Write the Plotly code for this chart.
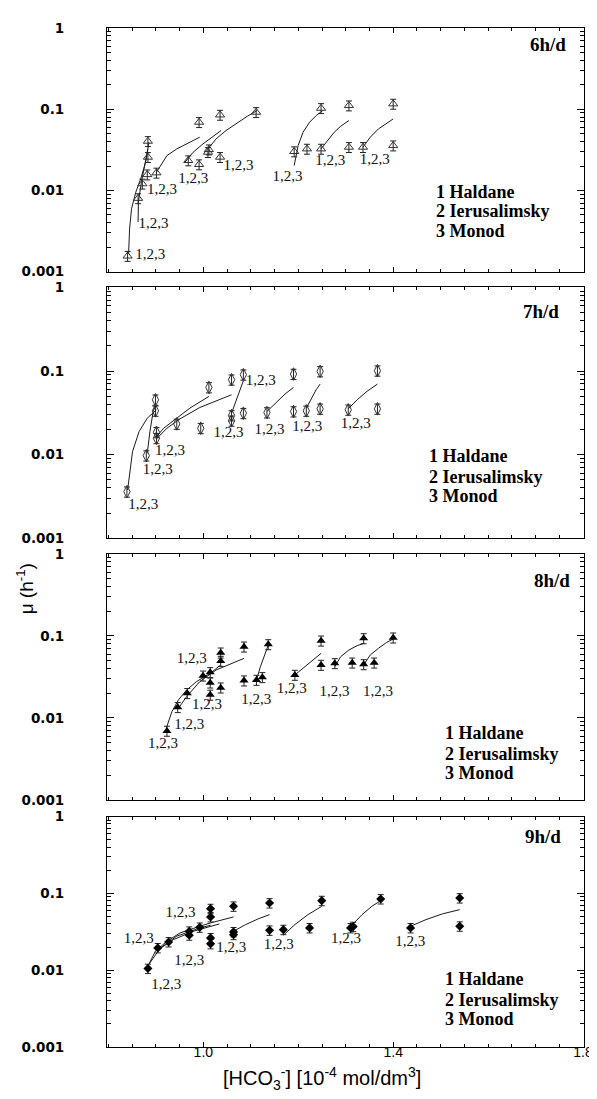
import plotly.graph_objects as go
import numpy as np

# ---------------- data: 6 h/d ----------------
p6_x = [0.8404, 0.8625, 0.8715, 0.8819, 0.8832, 0.8832, 0.9012, 0.9682, 0.9910, 0.9910, 1.0097, 1.0117,
        1.0352, 1.0352, 1.1112, 1.1914, 1.2183, 1.2480, 1.2480, 1.3067, 1.3067, 1.3364, 1.4000, 1.4000]
p6_y = [0.00156, 0.0080, 0.0121, 0.0157, 0.0257, 0.0404, 0.0165, 0.0234, 0.0209, 0.0692, 0.0296, 0.0319,
        0.0257, 0.0851, 0.0919, 0.0302, 0.0325, 0.1028, 0.0325, 0.111, 0.0341, 0.0341, 0.1164, 0.0357]
p6_fits = [
    ([0.8425, 0.8446, 0.8487, 0.8577, 0.8680, 0.8784, 0.8853], [0.00166, 0.00338, 0.00595, 0.00955, 0.0139, 0.0223, 0.0393]),
    ([0.8625, 0.8632, 0.8694, 0.8764, 0.8832], [0.00408, 0.00719, 0.01265, 0.0203, 0.0325]),
    ([0.9012, 0.9233, 0.9440, 0.9648, 0.9924], [0.0168, 0.0269, 0.0325, 0.0375, 0.0453]),
    ([0.9613, 0.9786, 0.9993, 1.0200, 1.0373], [0.0223, 0.0296, 0.0375, 0.0466, 0.0547]),
    ([1.0097, 1.0269, 1.0477, 1.0684, 1.0926, 1.1133], [0.0325, 0.0432, 0.0547, 0.0660, 0.0820, 0.0964]),
    ([1.1914, 1.1997, 1.2100, 1.2238, 1.2377, 1.2515], [0.0203, 0.0357, 0.0521, 0.0692, 0.0836, 0.0964]),
    ([1.2480, 1.2619, 1.2757, 1.2894, 1.3067], [0.0325, 0.0412, 0.0521, 0.0618, 0.0726]),
    ([1.3364, 1.3516, 1.3689, 1.3862, 1.4000], [0.0341, 0.0453, 0.0573, 0.0679, 0.0760]),
]
p6_lbl_x = [0.8881, 0.8950, 0.9130, 0.9786, 1.0739, 1.1775, 1.2674, 1.3613]
p6_lbl_y = [0.00159, 0.00389, 0.0100, 0.0139, 0.0199, 0.0146, 0.0228, 0.0234]

# ---------------- data: 7 h/d ----------------
p7_x = [0.8390, 0.8798, 0.8991, 0.8991, 0.9012, 0.9012, 0.9440, 0.9945, 1.0117, 1.0594, 1.0594, 1.0594,
        1.0843, 1.0843, 1.1340, 1.1900, 1.1900, 1.2169, 1.2460, 1.2460, 1.3053, 1.3668, 1.3668]
p7_y = [0.00360, 0.00973, 0.0453, 0.0334, 0.0185, 0.0157, 0.0233, 0.0207, 0.0637, 0.0294, 0.0787, 0.0254,
        0.0904, 0.0313, 0.0319, 0.0920, 0.0328, 0.0334, 0.0991, 0.0353, 0.0344, 0.1009, 0.0353]
p7_fits = [
    ([0.8404, 0.8508, 0.8646, 0.8819, 0.9012], [0.00377, 0.01086, 0.0189, 0.0273, 0.0344]),
    ([0.8819, 0.8874, 0.8943, 0.8998], [0.0104, 0.0189, 0.0328, 0.0394]),
    ([0.9012, 0.9164, 0.9440, 0.9717, 1.0117], [0.0164, 0.0207, 0.0273, 0.0360, 0.0497]),
    ([0.9012, 0.9233, 0.9509, 0.9924, 1.0594], [0.0154, 0.0207, 0.0268, 0.0366, 0.0520]),
    ([1.0594, 1.0684, 1.0767, 1.0843], [0.0313, 0.0433, 0.0597, 0.0766]),
    ([1.1340, 1.1513, 1.1720, 1.1900], [0.0328, 0.0413, 0.0530, 0.0637]),
    ([1.2169, 1.2273, 1.2377, 1.2460], [0.0360, 0.0474, 0.0597, 0.0698]),
    ([1.3053, 1.3240, 1.3447, 1.3668], [0.0353, 0.0453, 0.0570, 0.0698]),
]
p7_lbl_x = [0.8736, 0.9040, 0.9295, 1.0532, 1.1209, 1.1395, 1.2190, 1.3212]
p7_lbl_y = [0.00249, 0.00643, 0.01086, 0.0180, 0.0752, 0.0198, 0.0211, 0.0231]

# ---------------- data: 8 h/d ----------------
p8_x = [0.9233, 0.9461, 0.9661, 0.9993, 1.0145, 1.0145, 1.0145, 1.0366, 1.0366, 1.0366, 1.0857, 1.0857,
        1.1119, 1.1243, 1.1368, 1.1928, 1.2480, 1.2480, 1.2770, 1.3136, 1.3378, 1.3378, 1.3599, 1.4000]
p8_y = [0.00695, 0.0135, 0.0200, 0.0327, 0.0360, 0.0269, 0.0191, 0.0494, 0.0624, 0.0234, 0.0738, 0.0285,
        0.0290, 0.0313, 0.0788, 0.0334, 0.0873, 0.0442, 0.0463, 0.0471, 0.0932, 0.0450, 0.0471, 0.0951]
p8_fits = [
    ([0.9219, 0.9337, 0.9475, 0.9648, 0.9855, 1.0145, 1.0366], [0.00748, 0.0119, 0.0166, 0.0219, 0.0277, 0.0350, 0.0442]),
    ([0.9475, 0.9648, 0.9924, 1.0269, 1.0857], [0.0131, 0.0182, 0.0277, 0.0384, 0.0532]),
    ([1.1119, 1.1202, 1.1292, 1.1368], [0.0290, 0.0421, 0.0585, 0.0773]),
    ([1.1928, 1.2135, 1.2308, 1.2480], [0.0334, 0.0421, 0.0508, 0.0612]),
    ([1.2770, 1.2894, 1.3067, 1.3240, 1.3378], [0.0421, 0.0558, 0.0673, 0.0759, 0.0810]),
    ([1.3378, 1.3516, 1.3689, 1.3862, 1.4000], [0.0442, 0.0585, 0.0705, 0.0833, 0.0915]),
]
p8_lbl_x = [0.9758, 0.9150, 0.9703, 1.0076, 1.1112, 1.1865, 1.2763, 1.3682]
p8_lbl_y = [0.0518, 0.00478, 0.00822, 0.0144, 0.0166, 0.0225, 0.0205, 0.0205]

# ---------------- data: 9 h/d ----------------
p9_x = [0.8832, 0.9040, 0.9268, 0.9703, 0.9703, 0.9924, 1.0152, 1.0152, 1.0152, 1.0152, 1.0636, 1.0636,
        1.0636, 1.1395, 1.1395, 1.1686, 1.2238, 1.2494, 1.3102, 1.3157, 1.3737, 1.4366, 1.5402, 1.5402]
p9_y = [0.0105, 0.0195, 0.0233, 0.0285, 0.0321, 0.0361, 0.0632, 0.0493, 0.0263, 0.0220, 0.0678, 0.0315,
        0.0290, 0.0748, 0.0330, 0.0337, 0.0355, 0.0803, 0.0355, 0.0369, 0.0844, 0.0355, 0.0869, 0.0373]
p9_fits = [
    ([0.8832, 0.8991, 0.9233, 0.9509, 0.9924, 1.0152, 1.0636], [0.0113, 0.0177, 0.0238, 0.0305, 0.0373, 0.0412, 0.0493]),
    ([0.8853, 0.9095, 0.9440, 0.9924, 1.0152], [0.0119, 0.0195, 0.0277, 0.0355, 0.0384]),
    ([0.9026, 0.9371, 0.9786, 1.0338], [0.0180, 0.0250, 0.0321, 0.0400]),
    ([1.0636, 1.0891, 1.1168, 1.1395], [0.0321, 0.0392, 0.0469, 0.0528]),
    ([1.1686, 1.1928, 1.2204, 1.2494], [0.0285, 0.0392, 0.0528, 0.0678]),
    ([1.3157, 1.3343, 1.3551, 1.3737], [0.0400, 0.0528, 0.0678, 0.0803]),
    ([1.4366, 1.4691, 1.5036, 1.5402], [0.0373, 0.0455, 0.0540, 0.0614]),
]
p9_lbl_x = [0.8639, 0.9516, 0.9703, 0.9219, 1.0587, 1.1589, 1.3005, 1.4359]
p9_lbl_y = [0.0255, 0.0556, 0.0131, 0.00638, 0.0191, 0.0211, 0.0250, 0.0231]

panel_names = ["6h/d", "7h/d", "8h/d", "9h/d"]
model_names = ["1 Haldane", "2 Ierusalimsky", "3 Monod"]
fit_label = "1,2,3"
x_tick_vals = [1.0, 1.4, 1.8]
x_tick_text = ["1.0", "1.4", "1.8"]
y_tick_vals = [0.001, 0.01, 0.1, 1]
y_tick_text = ["0.001", "0.01", "0.1", "1"]

# ---------------- figure ----------------
SERIF = "Liberation Serif"
SANS = "Liberation Sans"
PAD = "\u00a0\u00a0\u00a0"

panels = [
    dict(x=p6_x, y=p6_y, fits=p6_fits, lx=p6_lbl_x, ly=p6_lbl_y,
         marker=dict(symbol="triangle-up-open", size=8, color="#333", line=dict(width=1, color="#333")),
         domain=[0.7608, 1.0], tag=(0.966, 0.934), leg_x=0.686, leg_y=[0.329, 0.249, 0.169]),
    dict(x=p7_x, y=p7_y, fits=p7_fits, lx=p7_lbl_x, ly=p7_lbl_y,
         marker=dict(symbol="diamond-tall-open", size=9, color="#333", line=dict(width=1, color="#333")),
         domain=[0.4993, 0.7454], tag=(0.951, 0.906), leg_x=0.670, leg_y=[0.326, 0.246, 0.168]),
    dict(x=p8_x, y=p8_y, fits=p8_fits, lx=p8_lbl_x, ly=p8_lbl_y,
         marker=dict(symbol="triangle-up", size=8, color="black"),
         domain=[0.2424, 0.4840], tag=(0.975, 0.893), leg_x=0.7045, leg_y=[0.271, 0.187, 0.109]),
    dict(x=p9_x, y=p9_y, fits=p9_fits, lx=p9_lbl_x, ly=p9_lbl_y,
         marker=dict(symbol="diamond", size=7, color="black"),
         domain=[0.0, 0.2262], tag=(0.957, 0.913), leg_x=0.7045, leg_y=[0.293, 0.206, 0.123]),
]

fig = go.Figure()
annotations = []
x_minor = [round(v, 3) for v in np.arange(0.8, 1.8001, 0.05)]
y_minor = [m * 10.0 ** e for e in (-3, -2, -1) for m in range(2, 10)]

for i, p in enumerate(panels):
    n = "" if i == 0 else str(i + 1)
    xr, yr = "x" + n, "y" + n
    for fx, fy in p["fits"]:
        fig.add_trace(go.Scatter(x=fx, y=fy, mode="lines", xaxis=xr, yaxis=yr,
                                 line=dict(color="#1a1a1a", width=1), showlegend=False, hoverinfo="skip"))
    fig.add_trace(go.Scatter(x=p["x"], y=p["y"], mode="markers", xaxis=xr, yaxis=yr,
                             marker=p["marker"], showlegend=False,
                             error_y=dict(type="percent", value=14, thickness=1, width=3, color="#222")))
    fig.add_trace(go.Scatter(x=p["lx"], y=p["ly"], mode="text", xaxis=xr, yaxis=yr,
                             text=[fit_label] * len(p["lx"]), textposition="middle center",
                             textfont=dict(family=SERIF, size=15, color="#111"),
                             showlegend=False, hoverinfo="skip"))
    last = (i == 3)
    fig.update_layout({
        "xaxis" + n: dict(range=[0.797, 1.802], domain=[0, 1], anchor=yr,
                          showline=True, linecolor="black", linewidth=1, mirror="ticks",
                          ticks="inside", ticklen=5, tickcolor="black",
                          tickmode="array", tickvals=x_tick_vals, ticktext=x_tick_text,
                          showticklabels=last, tickfont=dict(family=SANS, size=14, color="black"),
                          ticklabelstandoff=-8,
                          showgrid=False, zeroline=False,
                          minor=dict(tickmode="array", tickvals=x_minor, ticks="inside",
                                     ticklen=3, tickcolor="black", showgrid=False)),
        "yaxis" + n: dict(type="log", range=[-3, 0], domain=p["domain"], anchor=xr,
                          showline=True, linecolor="black", linewidth=1, mirror="ticks",
                          ticks="inside", ticklen=7, tickcolor="black",
                          tickmode="array", tickvals=y_tick_vals,
                          ticktext=["<b>" + t + PAD + "</b>" for t in y_tick_text],
                          tickfont=dict(family="DejaVu Sans", size=13.5, color="black"),
                          ticklabelstandoff=25,
                          showgrid=False, zeroline=False,
                          minor=dict(tickmode="array", tickvals=y_minor, ticks="inside",
                                     ticklen=4, tickcolor="black", showgrid=False)),
    })
    annotations.append(dict(text="<b>" + panel_names[i] + "</b>", xref=xr + " domain", yref=yr + " domain",
                            x=p["tag"][0], y=p["tag"][1], xanchor="right", yanchor="middle",
                            showarrow=False, font=dict(family=SERIF, size=19, color="black")))
    for k, name in enumerate(model_names):
        annotations.append(dict(text="<b>" + name + "</b>", xref=xr + " domain", yref=yr + " domain",
                                x=p["leg_x"], y=p["leg_y"][k], xanchor="left", yanchor="middle",
                                showarrow=False,
                                font=dict(family=SERIF, size=18, color="black")))

annotations.append(dict(text="μ (h<sup>-1</sup>)", xref="paper", yref="paper", x=-0.17, y=0.450,
                        xanchor="center", yanchor="middle", textangle=-90, showarrow=False,
                        font=dict(family=SANS, size=19, color="black")))
annotations.append(dict(text="[HCO<sub>3</sub><sup>-</sup>] [10<sup>-4</sup> mol/dm<sup>3</sup>]",
                        xref="paper", yref="paper", x=0.4505, y=-0.031,
                        xanchor="center", yanchor="middle", showarrow=False,
                        font=dict(family=SANS, size=20, color="black")))

fig.update_layout(width=597, height=1099, margin=dict(l=99, r=13, t=19, b=60),
                  paper_bgcolor="white", plot_bgcolor="white", annotations=annotations,
                  showlegend=False)

fig.write_html("out.html")
